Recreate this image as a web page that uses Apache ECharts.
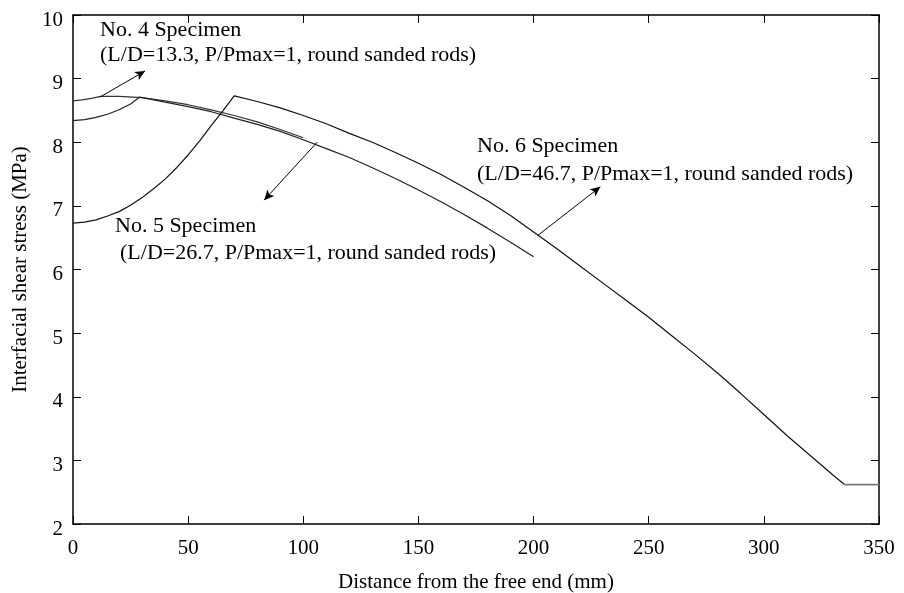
<!DOCTYPE html>
<html>
<head>
<meta charset="utf-8">
<script src="https://cdn.jsdelivr.net/npm/echarts@6/dist/echarts.min.js"></script>
<style>
  html, body { margin: 0; padding: 0; background: #fff; }
  #chart { width: 904px; height: 593px; }
</style>
</head>
<body>
<div id="chart"></div>
<script>
// readings from the picture: [distance (mm), stress (MPa)]
const no4 = [
  [0, 8.65], [4, 8.665], [8, 8.69], [12, 8.72], [20, 8.72], [30, 8.70], [40, 8.65],
  [50, 8.59], [60, 8.51], [70, 8.42], [80, 8.32], [90, 8.20], [100, 8.07]
]
const no5 = [
  [0, 8.34], [5, 8.355], [10, 8.39], [15, 8.44], [20, 8.51], [25, 8.60], [29, 8.71],
  [40, 8.63], [50, 8.56], [60, 8.48], [70, 8.38], [80, 8.28], [90, 8.17], [100, 8.04],
  [110, 7.90], [120, 7.76], [130, 7.60], [140, 7.43], [150, 7.25], [160, 7.06],
  [170, 6.86], [180, 6.65], [190, 6.43], [200, 6.20]
]
const no6 = [
  [0, 6.73], [5, 6.745], [10, 6.78], [15, 6.84], [20, 6.91], [25, 7.01], [30, 7.13],
  [35, 7.27], [40, 7.42], [45, 7.60], [50, 7.80], [55, 8.02], [60, 8.26], [65, 8.49],
  [70, 8.73], [80, 8.64], [90, 8.54], [100, 8.42], [110, 8.29], [120, 8.14], [130, 8.00],
  [140, 7.84], [150, 7.67], [160, 7.49], [170, 7.29], [180, 7.08], [190, 6.85],
  [200, 6.59], [210, 6.33], [220, 6.06], [230, 5.79], [240, 5.52], [250, 5.25],
  [260, 4.96], [270, 4.67], [280, 4.37], [290, 4.05], [300, 3.72], [310, 3.39],
  [320, 3.08], [330, 2.77], [335, 2.62]
]
const no6Tail = [[335, 2.62], [350, 2.62]]

// arrows: [tail, head]
const arrow4 = [[11.7, 8.71], [31.3, 9.12]]
const arrow5 = [[106, 8.0], [83, 7.09]]
const arrow6 = [[202, 6.54], [229, 7.30]]

const labels = [
  { text: 'No. 4 Specimen', x: 100, y: 30 },
  { text: '(L/D=13.3, P/Pmax=1, round sanded rods)', x: 100, y: 55 },
  { text: 'No. 5 Specimen', x: 115, y: 226 },
  { text: '(L/D=26.7, P/Pmax=1, round sanded rods)', x: 120, y: 253 },
  { text: 'No. 6 Specimen', x: 477, y: 146 },
  { text: '(L/D=46.7, P/Pmax=1, round sanded rods)', x: 477, y: 174 }
]

const font = 'Liberation Serif, Times New Roman, serif'
const chart = echarts.init(document.getElementById('chart'))

const axisCommon = {
  axisLine: { show: true, onZero: false, lineStyle: { color: '#000', width: 1.5 } },
  axisTick: { show: true, inside: true, length: 8, lineStyle: { color: '#000', width: 1 } },
  splitLine: { show: false }
}

const arrowLine = (pts) => ({
  silent: true,
  symbol: ['none', 'arrow'],
  symbolSize: [7, 10],
  label: { show: false },
  lineStyle: { color: '#000', width: 1, type: 'solid' },
  data: [[{ coord: pts[0] }, { coord: pts[1] }]]
})

const lineSeries = (name, data, color, extra) => Object.assign({
  name,
  type: 'line',
  data,
  showSymbol: false,
  symbol: 'none',
  lineStyle: { color, width: 1.2 },
  animation: false
}, extra)

chart.setOption({
  animation: false,
  grid: { left: 73, right: 25, top: 15, bottom: 69, outerBoundsMode: 'none', containLabel: false },
  textStyle: { fontFamily: font },
  xAxis: [
    Object.assign({
      type: 'value', min: 0, max: 350, interval: 50,
      name: 'Distance from the free end (mm)',
      nameLocation: 'middle', nameGap: 48,
      nameTextStyle: { fontFamily: font, fontSize: 21, color: '#000' },
      axisLabel: { fontFamily: font, fontSize: 21, color: '#000', margin: 14 }
    }, axisCommon),
    Object.assign({
      type: 'value', min: 0, max: 350, interval: 50, position: 'top',
      axisLabel: { show: false }
    }, axisCommon)
  ],
  yAxis: [
    Object.assign({
      type: 'value', min: 2, max: 10, interval: 1,
      name: 'Interfacial shear stress (MPa)',
      nameLocation: 'middle', nameGap: 40,
      nameTextStyle: { fontFamily: font, fontSize: 21, color: '#000' },
      axisLabel: {
        fontFamily: font, fontSize: 21, color: '#000', margin: 10,
        verticalAlign: 'top', lineHeight: 10
      }
    }, axisCommon),
    Object.assign({
      type: 'value', min: 2, max: 10, interval: 1, position: 'right',
      axisLabel: { show: false }
    }, axisCommon)
  ],
  series: [
    lineSeries('No. 4', no4, '#333', { markLine: arrowLine(arrow4) }),
    lineSeries('No. 5', no5, '#222', { markLine: arrowLine(arrow5) }),
    lineSeries('No. 6', no6, '#111', { markLine: arrowLine(arrow6) }),
    lineSeries('No. 6 tail', no6Tail, '#777', { lineStyle: { color: '#777', width: 1.8 } })
  ],
  graphic: labels.map(l => ({
    type: 'text',
    x: l.x,
    y: l.y,
    silent: true,
    style: {
      text: l.text,
      font: '22px ' + font,
      fill: '#000',
      verticalAlign: 'middle'
    }
  }))
})
</script>
</body>
</html>
